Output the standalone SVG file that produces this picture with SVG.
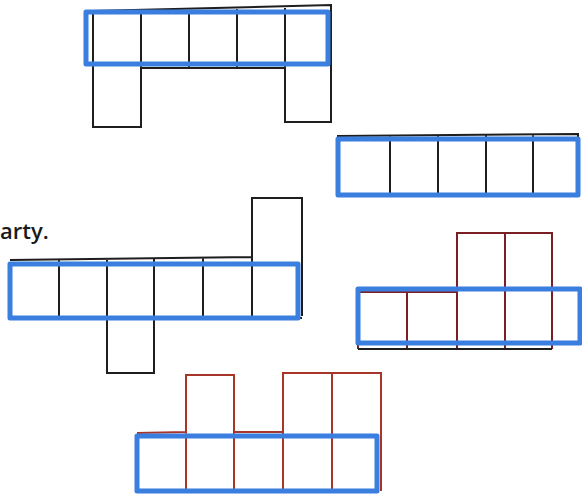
<svg xmlns="http://www.w3.org/2000/svg" width="582" height="499" viewBox="0 0 582 499">
<style>
.k{fill:none;stroke:#1e1e1e;stroke-width:2}
.r{fill:none;stroke:#7a1f24;stroke-width:2}
.o{fill:none;stroke:#a8352a;stroke-width:2}
.b{fill:none;stroke:#3a7ee0;stroke-width:5;stroke-linejoin:round}
.t{font-family:"Open Sans","Liberation Sans",sans-serif;font-size:22px;font-weight:600;fill:#1a1a1a}
</style>
<rect width="582" height="499" fill="#fff"/>
<text class="t" x="0" y="239">arty.</text>
<g id="net1">
<path class="k" d="M93,127 L93,11 L331,5 L331,122 L285,122 L285,68 L141,68 L141,127 Z M141,11 V68 M189,10 V68 M237,9 V68 M285,8 V68"/>
<rect class="b" x="86" y="12" width="242" height="52"/>
</g>
<g id="net2">
<path class="k" d="M337,136 L578,134 L578,196 M390,135 V197 M438,135 V197 M486,135 V197 M533,135 V197"/>
<rect class="b" x="338" y="139" width="240" height="56"/>
</g>
<g id="net3">
<path class="k" d="M10,260 L252,257 L252,198 L302,198 L302,316 M59,259 V319 M107,259 V373 L154,373 V258 M203,258 V318 M252,257 V318 M154,318 H302"/>
<rect class="b" x="10" y="264" width="288" height="54"/>
</g>
<g id="net4">
<path class="r" d="M358,349 V292 H457 V233 H552 V349 M505,233 V349 M457,292 V349 M407,292 V349"/>
<path class="k" d="M358,349 H552"/>
<rect class="b" x="358" y="289" width="222" height="54"/>
</g>
<g id="net5">
<path class="o" d="M137,433 L186,432 V375 H234 V432 H283 V373 H381 V491 M186,432 V491 M234,432 V491 M283,432 V491 M332,373 V491"/>
<rect class="b" x="137" y="436" width="240" height="55"/>
</g>
</svg>
